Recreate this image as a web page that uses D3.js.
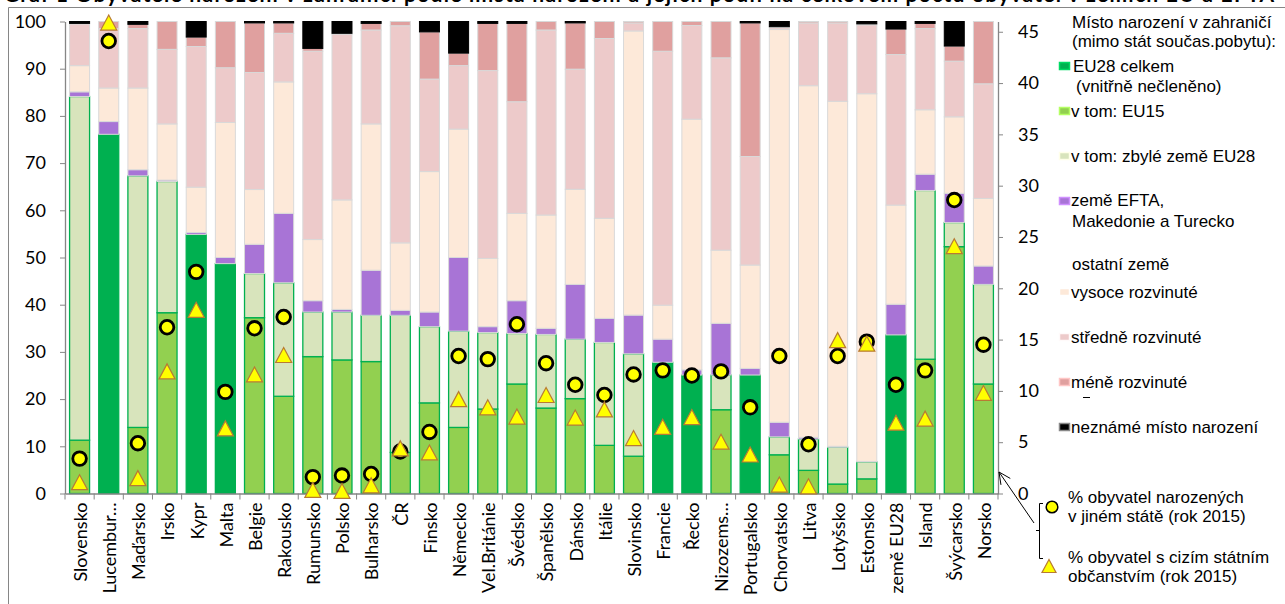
<!DOCTYPE html>
<html lang="cs">
<head>
<meta charset="utf-8">
<script src="https://cdn.jsdelivr.net/npm/d3@7"></script>
<style>
  html, body { margin: 0; padding: 0; background: #fff; }
  svg { display: block; }
</style>
</head>
<body>
<div id="chart"></div>
<script>
// categories (countries) in the order of the picture
const categories = ["Slovensko", "Lucembur\u2026", "Maďarsko", "Irsko", "Kypr", "Malta", "Belgie", "Rakousko",
  "Rumunsko", "Polsko", "Bulharsko", "ČR", "Finsko", "Německo", "Vel.Británie", "Švédsko", "Španělsko",
  "Dánsko", "Itálie", "Slovinsko", "Francie", "Řecko", "Nizozems\u2026", "Portugalsko", "Chorvatsko", "Litva",
  "Lotyšsko", "Estonsko", "země EU28", "Island", "Švýcarsko", "Norsko"];

// stacked shares in % (left axis)
const eu28Celkem = [0, 76.1, 0, 0, 54.9, 48.7, 0, 0, 0, 0, 0, 0, 0, 0, 0, 0, 0, 0, 0, 0, 27.8, 25.1, 0, 25.1, 0, 0, 0, 0, 33.6, 0, 0, 0];
const eu15 = [11.3, 0, 14.0, 38.3, 0, 0, 37.25, 20.6, 29.0, 28.3, 27.95, 8.7, 19.2, 14.0, 17.9, 23.2, 18.1, 20.1, 10.2, 7.9, 0, 0, 17.75, 0, 8.2, 4.9, 2.0, 3.1, 0, 28.45, 52.3, 23.2];
const zbyleEU28 = [72.8, 0, 53.3, 27.8, 0, 0, 9.35, 24.05, 9.45, 10.15, 9.8, 29.05, 16.15, 20.4, 16.2, 10.7, 15.6, 12.6, 21.8, 21.7, 0, 0, 7.35, 0, 3.8, 6.65, 7.8, 3.6, 0, 35.75, 5.1, 21.1];
const efta = [1.0, 2.7, 1.3, 0.3, 0.4, 1.3, 6.2, 14.7, 2.4, 0.55, 9.55, 1.05, 3.1, 15.6, 1.25, 6.95, 1.3, 11.6, 5.1, 8.2, 4.9, 1.1, 10.95, 1.4, 3.1, 0.35, 0.2, 0.1, 6.5, 3.45, 6.2, 3.9];
const vysoce = [5.55, 7.1, 17.3, 11.9, 9.6, 28.6, 11.6, 27.85, 12.95, 23.2, 31.0, 14.3, 29.75, 27.2, 14.45, 18.5, 24.0, 20.15, 21.2, 60.2, 7.2, 53.1, 15.5, 21.9, 83.2, 74.5, 73.1, 77.9, 21.0, 13.65, 16.2, 14.3];
const stredne = [8.85, 12.6, 12.6, 15.8, 29.8, 11.6, 24.8, 10.3, 39.9, 35.1, 19.9, 46.0, 19.6, 13.45, 39.8, 23.65, 39.2, 25.45, 38.1, 1.7, 53.8, 19.85, 40.75, 23.0, 0.4, 13.3, 16.6, 14.6, 31.9, 17.2, 11.8, 24.3];
const mene = [0.1, 1.5, 0.9, 5.9, 2.0, 9.8, 10.5, 2.2, 0.6, 0.2, 1.4, 0.9, 10.0, 2.65, 10.0, 16.6, 1.8, 9.8, 3.6, 0.3, 6.3, 0.85, 7.7, 28.3, 0.2, 0.3, 0.3, 0.2, 5.4, 1.1, 3.2, 13.2];
const nezname = [0.4, 0, 0.6, 0, 3.3, 0, 0.3, 0.3, 5.7, 2.5, 0.4, 0, 2.2, 6.7, 0.4, 0.4, 0, 0.3, 0, 0, 0, 0, 0, 0.3, 1.1, 0, 0, 0.5, 1.6, 0.4, 5.2, 0];

// markers (right axis, %)
const narozeniJinde = [3.4, 44.1, 4.9, 16.2, 21.6, 9.9, 16.1, 17.2, 1.6, 1.75, 1.9, 4.1, 6.0, 13.4, 13.1, 16.5, 12.7, 10.6, 9.6, 11.6, 12.0, 11.5, 11.9, 8.4, 13.4, 4.8, 13.4, 14.8, 10.6, 12.0, 28.6, 14.5];
const ciziObcanstvi = [1.1, 45.9, 1.5, 11.9, 17.9, 6.35, 11.6, 13.5, 0.35, 0.25, 0.8, 4.4, 4.0, 9.2, 8.4, 7.5, 9.6, 7.4, 8.2, 5.4, 6.5, 7.45, 5.05, 3.8, 0.87, 0.7, 14.95, 14.6, 6.9, 7.3, 24.1, 9.8];

const leftTicks = [0, 10, 20, 30, 40, 50, 60, 70, 80, 90, 100];
const rightTicks = [0, 5, 10, 15, 20, 25, 30, 35, 40, 45];

const seriesKeys = ["eu28", "eu15", "zbyle", "efta", "vysoce", "stredne", "mene", "nezname"];
const seriesStyle = {
  eu28:    { fill: "#00b050", stroke: "#00b050" },
  eu15:    { fill: "#92d050", stroke: "#00b050" },
  zbyle:   { fill: "#d8e4bc", stroke: "#00b050" },
  efta:    { fill: "#a874d6", stroke: "#d9d9d9" },
  vysoce:  { fill: "#fde9d9", stroke: "#d9d9d9" },
  stredne: { fill: "#edcaca", stroke: "#d9d9d9" },
  mene:    { fill: "#e0a09f", stroke: "#d9d9d9" },
  nezname: { fill: "#000000", stroke: "#000000" }
};

const rows = categories.map((c, i) => ({
  cat: c,
  eu28: eu28Celkem[i], eu15: eu15[i], zbyle: zbyleEU28[i], efta: efta[i],
  vysoce: vysoce[i], stredne: stredne[i], mene: mene[i], nezname: nezname[i],
  circle: narozeniJinde[i], tri: ciziObcanstvi[i]
}));

const width = 1285, height = 604;
const plot = { left: 65, right: 998, top: 21.5, bottom: 493.5 };
const AXIS = "#868686";
const TICK_FONT = "Lato, 'Open Sans', sans-serif";
const LEGEND_FONT = "'Liberation Sans', Arial, sans-serif";

const svg = d3.select("#chart").append("svg")
  .attr("width", width)
  .attr("height", height);

// frame
svg.append("path")
  .attr("d", `M8.5,${height} V7.5 H${width}`)
  .attr("fill", "none")
  .attr("stroke", AXIS)
  .attr("stroke-width", 1);

// title, cut off at the top edge (only the bottoms of letters show)
svg.append("text")
  .attr("x", 4)
  .attr("y", 2)
  .attr("textLength", 1270)
  .attr("lengthAdjust", "spacing")
  .style("font-family", TICK_FONT)
  .style("font-size", "21px")
  .style("font-weight", "700")
  .text("Graf 1 Obyvatelé narození v zahraničí podle místa narození a jejich podíl na celkovém počtu obyvatel v zemích EU a EFTA");

const x = d3.scaleBand()
  .domain(categories)
  .range([plot.left, plot.right])
  .paddingInner(0.28)
  .paddingOuter(0.14);

const yL = d3.scaleLinear().domain([0, 100]).range([plot.bottom, plot.top]);
const yR = d3.scaleLinear().domain([0, 46]).range([plot.bottom, plot.top]);

// stacked bars
const stacked = d3.stack().keys(seriesKeys)(rows);

svg.append("g")
  .selectAll("g")
  .data(stacked)
  .join("g")
  .attr("fill", d => seriesStyle[d.key].fill)
  .attr("stroke", d => seriesStyle[d.key].stroke)
  .attr("stroke-width", d => seriesStyle[d.key].stroke === "#00b050" ? 1.3 : 1)
  .selectAll("rect")
  .data(d => d.filter(s => s[1] - s[0] > 0))
  .join("rect")
  .attr("x", d => x(d.data.cat) + 0.5)
  .attr("y", d => yL(d[1]))
  .attr("width", x.bandwidth() - 1)
  .attr("height", d => yL(d[0]) - yL(d[1]));

// axes
const leftAxis = svg.append("g")
  .attr("transform", `translate(${plot.left},0)`)
  .call(d3.axisLeft(yL).tickValues(leftTicks).tickSize(5).tickSizeOuter(0).tickPadding(14));

const rightAxis = svg.append("g")
  .attr("transform", `translate(${plot.right},0)`)
  .call(d3.axisRight(yR).tickValues(rightTicks).tickSize(5).tickSizeOuter(0).tickPadding(15));

const bottomAxis = svg.append("g")
  .attr("transform", `translate(0,${plot.bottom})`)
  .call(d3.axisBottom(x).tickSize(0).tickSizeOuter(0).tickPadding(8));

bottomAxis.selectAll(".tick text")
  .attr("transform", "rotate(-90)")
  .attr("text-anchor", "end")
  .attr("x", -9)
  .attr("y", 1)
  .attr("dy", "0.35em");

// category separators on the x axis
const step = x.step();
const boundaries = categories.map(c => x(c) - step * x.paddingInner() / 2).concat([plot.right]);
bottomAxis.selectAll("line.sep")
  .data(boundaries)
  .join("line")
  .attr("class", "sep")
  .attr("x1", d => d).attr("x2", d => d)
  .attr("y1", 0).attr("y2", 6)
  .attr("stroke", AXIS);

[leftAxis, rightAxis, bottomAxis].forEach(a => {
  a.select(".domain").attr("stroke", AXIS).attr("stroke-width", 1.3);
  a.selectAll(".tick line").attr("stroke", AXIS);
  a.selectAll(".tick text")
    .style("font-family", TICK_FONT)
    .style("font-size", "18px")
    .attr("fill", "#000");
});

// markers
const triPath = (w, h) => `M0,${-h / 2} L${w / 2},${h / 2} L${-w / 2},${h / 2} Z`;

svg.append("g")
  .selectAll("circle")
  .data(rows)
  .join("circle")
  .attr("cx", d => x(d.cat) + x.bandwidth() / 2)
  .attr("cy", d => yR(d.circle))
  .attr("r", 6.8)
  .attr("fill", "#ffff00")
  .attr("stroke", "#000")
  .attr("stroke-width", 2.8);

svg.append("g")
  .selectAll("path")
  .data(rows)
  .join("path")
  .attr("transform", d => `translate(${x(d.cat) + x.bandwidth() / 2},${yR(d.tri)})`)
  .attr("d", triPath(16, 15))
  .attr("fill", "#ffff00")
  .attr("stroke", "#b87a34")
  .attr("stroke-width", 1.2);

// legend
const legend = svg.append("g")
  .style("font-family", LEGEND_FONT)
  .style("font-size", "17px")
  .attr("fill", "#000");

const legendText = [
  { x: 1072, y: 28, t: "Místo narození v zahraničí" },
  { x: 1072, y: 47, t: "(mimo stát součas.pobytu):" },
  { x: 1073, y: 72, t: "EU28 celkem" },
  { x: 1076, y: 92, t: "(vnitřně nečleněno)" },
  { x: 1071, y: 117, t: "v tom: EU15" },
  { x: 1071, y: 162, t: "v tom: zbylé země EU28" },
  { x: 1071, y: 206, t: "země EFTA," },
  { x: 1072, y: 227, t: "Makedonie a Turecko" },
  { x: 1072, y: 270, t: "ostatní země" },
  { x: 1071, y: 298, t: "vysoce rozvinuté" },
  { x: 1071, y: 343, t: "středně rozvinuté" },
  { x: 1071, y: 388, t: "méně rozvinuté" },
  { x: 1071, y: 433, t: "neznámé místo narození" },
  { x: 1068, y: 503, t: "% obyvatel narozených" },
  { x: 1068, y: 522, t: "v jiném státě (rok 2015)" },
  { x: 1068, y: 563, t: "% obyvatel s cizím státním" },
  { x: 1068, y: 582, t: "občanstvím (rok 2015)" }
];

legend.selectAll("text")
  .data(legendText)
  .join("text")
  .attr("x", d => d.x)
  .attr("y", d => d.y)
  .text(d => d.t);

const legendSwatches = [
  { key: "eu28", y: 62 },
  { key: "eu15", y: 107 },
  { key: "zbyle", y: 152 },
  { key: "efta", y: 197 },
  { key: "vysoce", y: 288 },
  { key: "stredne", y: 333 },
  { key: "mene", y: 378 },
  { key: "nezname", y: 423 }
];

legend.selectAll("rect")
  .data(legendSwatches)
  .join("rect")
  .attr("x", 1059.5)
  .attr("y", d => d.y + 0.5)
  .attr("width", 10)
  .attr("height", 7)
  .attr("fill", d => seriesStyle[d.key].fill)
  .attr("stroke", d => d.key === "nezname" ? "#888" : d3.color(seriesStyle[d.key].fill).brighter(0.6))
  .attr("stroke-width", 1.5);

// small stray dash under "méně rozvinuté"
legend.append("line")
  .attr("x1", 1083).attr("x2", 1090)
  .attr("y1", 397.5).attr("y2", 397.5)
  .attr("stroke", "#000");

legend.append("circle")
  .attr("cx", 1052).attr("cy", 507)
  .attr("r", 5.8)
  .attr("fill", "#ffff00")
  .attr("stroke", "#000")
  .attr("stroke-width", 1.5);

legend.append("path")
  .attr("transform", "translate(1049,566)")
  .attr("d", triPath(14, 13))
  .attr("fill", "#ffff00")
  .attr("stroke", "#b87a34")
  .attr("stroke-width", 1.2);

// bracket and arrow pointing to the right axis
legend.append("path")
  .attr("d", "M1043,503.5 H1039.5 V558.5 H1043 M1036,530.5 H1039.5")
  .attr("fill", "none")
  .attr("stroke", "#000")
  .attr("stroke-width", 1);

const tip = [999, 472], tail = [1034, 523];
const ang = Math.atan2(tail[1] - tip[1], tail[0] - tip[0]);
const head = [ang - 0.45, ang + 0.45].map(a => [tip[0] + 13 * Math.cos(a), tip[1] + 13 * Math.sin(a)]);
legend.append("path")
  .attr("d", `M${tail[0]},${tail[1]} L${tip[0]},${tip[1]} M${head[0][0]},${head[0][1]} L${tip[0]},${tip[1]} L${head[1][0]},${head[1][1]}`)
  .attr("fill", "none")
  .attr("stroke", "#000")
  .attr("stroke-width", 1);
</script>
</body>
</html>
